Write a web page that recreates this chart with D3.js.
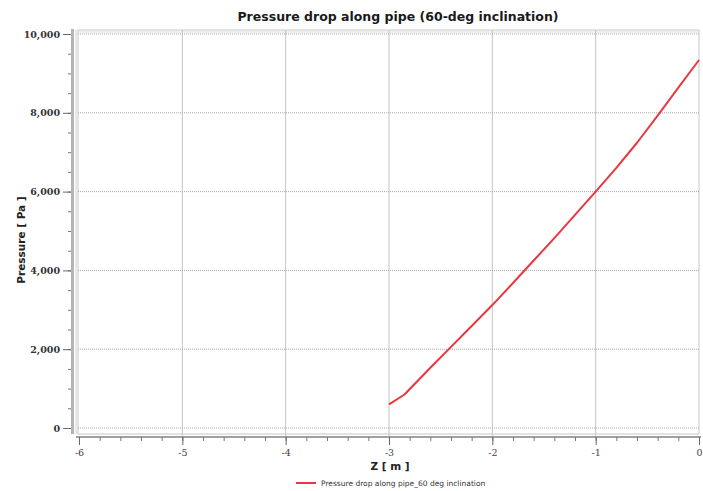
<!DOCTYPE html>
<html>
<head>
<meta charset="utf-8">
<script src="https://cdn.jsdelivr.net/npm/d3@7"></script>
<style>
  body { margin: 0; background: #fff; }
  svg { display: block; font-family: "DejaVu Sans", sans-serif; }
</style>
</head>
<body>
<div class="chart"></div>
<script>
// Pressure along the pipe, 60 deg inclination
var zValues = [-3, -2.85, -2.6, -2.4, -2.2, -2, -1.8, -1.6, -1.4, -1.2, -1, -0.8, -0.6, -0.4, -0.2, 0];
var pressureValues = [600, 850, 1530, 2060, 2590, 3120, 3680, 4250, 4820, 5410, 6000, 6600, 7240, 7930, 8640, 9340];
var xTicks = [-6, -5, -4, -3, -2, -1, 0];
var yTicks = [0, 2000, 4000, 6000, 8000, 10000];
var titleText = "Pressure drop along pipe (60-deg inclination)",
  xLabel = "Z [ m ]",
  yLabel = "Pressure [ Pa ]",
  legendText = "Pressure drop along pipe_60 deg inclination";

var width = 703,
  height = 491,
  plotLeft = 78,
  plotRight = 699,
  plotTop = 30,
  plotBottom = 434,
  axisY = 437,
  lineColor = "#e8383f";

var x = d3.scaleLinear().domain([-6, 0]).range([79, 699]),
  y = d3.scaleLinear().domain([0, 10000]).range([428, 34]);

var svg = d3.select(".chart").append("svg")
  .attr("width", width)
  .attr("height", height);

// plot frame
svg.append("rect")
  .attr("x", plotLeft).attr("y", plotTop)
  .attr("width", plotRight - plotLeft).attr("height", plotBottom - plotTop)
  .attr("fill", "#fff")
  .attr("stroke", "#c8c8c8");
svg.append("line")
  .attr("x1", plotLeft).attr("x2", plotRight)
  .attr("y1", plotTop + 2).attr("y2", plotTop + 2)
  .attr("stroke", "#dcdcdc");

// vertical grid
svg.append("g").selectAll("line")
  .data(xTicks.filter(function(d) { return d > -6 && d < 0; }))
  .enter().append("line")
    .attr("x1", x).attr("x2", x)
    .attr("y1", plotTop).attr("y2", axisY)
    .attr("stroke", "#c4c4c4");

// horizontal grid (dotted)
svg.append("g").selectAll("line")
  .data(yTicks)
  .enter().append("line")
    .attr("x1", plotLeft).attr("x2", plotRight)
    .attr("y1", y).attr("y2", y)
    .attr("stroke", "#a8a8a8")
    .attr("stroke-dasharray", "1,1");

// y axis
var yAxisG = svg.append("g");
yAxisG.append("rect")
  .attr("x", 71).attr("y", plotTop - 1)
  .attr("width", 3).attr("height", plotBottom - plotTop + 1)
  .attr("fill", "#b4b4b4");
yAxisG.append("line")
  .attr("x1", 76).attr("x2", 76)
  .attr("y1", plotTop).attr("y2", plotBottom)
  .attr("stroke", "#d0d0d0");
yAxisG.append("g")
  .attr("transform", "translate(71,0)")
  .call(d3.axisLeft(y).ticks(25).tickSize(3).tickFormat(""))
  .call(function(g) {
    g.select(".domain").remove();
    g.selectAll("line").attr("stroke", "#777");
  });
yAxisG.append("g")
  .attr("transform", "translate(71,0)")
  .call(d3.axisLeft(y).tickValues(yTicks).tickSize(8).tickPadding(3).tickFormat(d3.format(",")))
  .call(function(g) {
    g.select(".domain").remove();
    g.selectAll("line").attr("stroke", "#666");
    g.selectAll("text")
      .attr("fill", "#333")
      .style("font-family", "'DejaVu Serif', serif")
      .style("font-size", "9.5px")
      .style("font-weight", "bold");
  });

// x axis
var xAxisG = svg.append("g");
xAxisG.append("line")
  .attr("x1", plotLeft - 2).attr("x2", plotRight + 2)
  .attr("y1", axisY).attr("y2", axisY)
  .attr("stroke", "#a0a0a0").attr("stroke-width", 2);
xAxisG.append("g")
  .attr("transform", "translate(0," + axisY + ")")
  .call(d3.axisBottom(x).ticks(30).tickSize(4).tickFormat(""))
  .call(function(g) {
    g.select(".domain").remove();
    g.selectAll("line").attr("stroke", "#777");
  });
xAxisG.append("g")
  .attr("transform", "translate(0," + axisY + ")")
  .call(d3.axisBottom(x).tickValues(xTicks).tickSize(8).tickPadding(4)
    .tickFormat(function(d) { return String(d); }))
  .call(function(g) {
    g.select(".domain").remove();
    g.selectAll("line").attr("stroke", "#666");
    g.selectAll("text")
      .attr("fill", "#444")
      .style("font-family", "'DejaVu Serif', serif")
      .style("font-size", "9.5px");
  });

// data line
var line = d3.line()
  .x(function(d, i) { return x(zValues[i]); })
  .y(function(d) { return y(d); });
svg.append("path")
  .datum(pressureValues)
  .attr("d", line)
  .attr("fill", "none")
  .attr("stroke", lineColor)
  .attr("stroke-width", 2)
  .attr("stroke-linejoin", "round");

// title and axis labels
svg.append("text")
  .attr("x", 398).attr("y", 21)
  .attr("text-anchor", "middle")
  .style("font-size", "12.5px")
  .style("font-weight", "bold")
  .attr("fill", "#1a1a1a")
  .text(titleText);

svg.append("text")
  .attr("x", 390).attr("y", 470)
  .attr("text-anchor", "middle")
  .style("font-size", "10.5px")
  .style("font-weight", "bold")
  .attr("fill", "#222")
  .text(xLabel);

svg.append("text")
  .attr("transform", "translate(25,240) rotate(-90)")
  .attr("text-anchor", "middle")
  .style("font-size", "10.5px")
  .style("font-weight", "bold")
  .attr("fill", "#222")
  .text(yLabel);

// legend
var legend = svg.append("g").attr("transform", "translate(296,483)");
legend.append("line")
  .attr("x1", 0).attr("x2", 20)
  .attr("stroke", lineColor).attr("stroke-width", 2);
legend.append("text")
  .attr("x", 25).attr("y", 3)
  .style("font-size", "7.5px")
  .attr("fill", "#333")
  .text(legendText);
</script>
</body>
</html>
